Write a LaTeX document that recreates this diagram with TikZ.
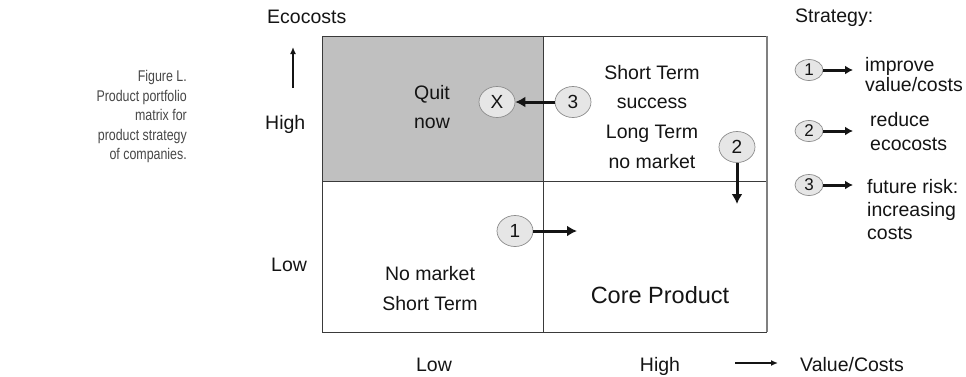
\documentclass[tikz,border=0pt]{standalone}
\usepackage{fontspec}
\setmainfont{Liberation Sans}
\newfontfamily\capfont{Liberation Sans}[FakeStretch=0.8]
\usetikzlibrary{arrows.meta,shapes.geometric}
\definecolor{boxline}{HTML}{3A3A3A}
\definecolor{edgegray}{HTML}{808080}
\definecolor{quitgray}{HTML}{C0C0C0}
\definecolor{badgefill}{HTML}{E6E6E6}
\definecolor{badgeline}{HTML}{8C8C8C}
\definecolor{captext}{HTML}{474747}
\definecolor{ink}{HTML}{141414}
\tikzset{
  txt/.style={anchor=base, inner sep=0pt, text=ink, font=\fontsize{19.5}{23}\selectfont},
  lefttxt/.style={txt, anchor=base west},
  captxt/.style={anchor=base east, inner sep=0pt, text=captext, font=\capfont\fontsize{15.5}{19}\selectfont},
  cell/.style={draw=boxline, line width=0.9pt},
  badge/.style={ellipse, draw=badgeline, fill=badgefill, line width=0.7pt, inner sep=0pt,
    minimum width=36pt, minimum height=31pt, text=ink, font=\fontsize{19}{22}\selectfont},
  smallbadge/.style={badge, minimum width=28pt, minimum height=21pt, font=\fontsize{17}{20}\selectfont},
  movearrow/.style={draw=ink, line width=3pt, -{Latex[length=10pt,width=11pt]}},
  legendarrow/.style={draw=ink, line width=3pt, -{Latex[length=8pt,width=9pt]}},
  axisarrow/.style={draw=ink, line width=1.4pt, -{Latex[length=7pt,width=6pt]}}
}
\begin{document}
\begin{tikzpicture}[x=1pt,y=-1pt]
\useasboundingbox (0,0) rectangle (966,376);

% caption
\node[captxt] (cap1) at (187,81) {Figure L.};
\node[captxt] (cap2) at (187,101) {Product portfolio};
\node[captxt] (cap3) at (187,120) {matrix for};
\node[captxt] (cap4) at (187,140) {product strategy};
\node[captxt] (cap5) at (187,159) {of companies.};

% the four quadrants
\fill[quitgray] (322,36) rectangle (543,181);
\draw[cell] (322,36) rectangle (543,181);
\draw[cell] (543,36) -- (767,36);
\draw[cell] (543,181) -- (767,181);
\draw[cell] (322,332) -- (767,332);
\draw[cell] (322,181) -- (322,332);
\draw[cell] (543,181) -- (543,332);
\draw[draw=edgegray, line width=1.3pt] (767,36) -- (767,332);

% axis labels
\node[lefttxt] (ecocosts) at (267,23) {Ecocosts};
\coordinate (upfoot) at (293,88);
\coordinate (uptip) at (293,47);
\draw[axisarrow] (upfoot) -- (uptip);
\node[lefttxt] (yhigh) at (265,129) {High};
\node[lefttxt] (ylow) at (271,271) {Low};
\node[txt] (xlow) at (434,371) {Low};
\node[txt] (xhigh) at (660,371) {High};
\coordinate (rightfoot) at (735,363);
\coordinate (righttip) at (778,363);
\draw[axisarrow] (rightfoot) -- (righttip);
\node[lefttxt] (valuecosts) at (800,371) {Value/Costs};

% quadrant texts
\node[txt] (quit) at (432,99) {Quit};
\node[txt] (now) at (432,128) {now};
\node[txt] (st1) at (652,79) {Short Term};
\node[txt] (st2) at (652,108) {success};
\node[txt] (st3) at (652,138) {Long Term};
\node[txt] (st4) at (652,168) {no market};
\node[txt] (nm1) at (430,280) {No market};
\node[txt] (nm2) at (430,310) {Short Term};
\node[txt, font=\fontsize{23.5}{27}\selectfont] (core) at (660,303) {Core Product};

% strategy moves
\node[badge] (bx) at (497,102) {X};
\node[badge] (b3) at (573,102) {3};
\node[badge] (b2) at (737,147) {2};
\node[badge] (b1) at (515,231) {1};
\coordinate (down2) at (737,204);
\coordinate (right1) at (577,231);
\draw[movearrow] (b3.west) -- (bx.east);
\draw[movearrow] (b2.south) -- (down2);
\draw[movearrow] (b1.east) -- (right1);

% legend
\node[lefttxt] (strategy) at (795,22) {Strategy:};
\node[smallbadge] (l1) at (809,70) {1};
\node[smallbadge] (l2) at (809,131) {2};
\node[smallbadge] (l3) at (809,185) {3};
\coordinate (l1tip) at (853,70);
\coordinate (l2tip) at (853,131);
\coordinate (l3tip) at (853,185);
\draw[legendarrow] (l1.east) -- (l1tip);
\draw[legendarrow] (l2.east) -- (l2tip);
\draw[legendarrow] (l3.east) -- (l3tip);
\node[lefttxt] (lg1a) at (865,71) {improve};
\node[lefttxt] (lg1b) at (865,91) {value/costs};
\node[lefttxt] (lg2a) at (870,126) {reduce};
\node[lefttxt] (lg2b) at (870,150) {ecocosts};
\node[lefttxt] (lg3a) at (867,193) {future risk:};
\node[lefttxt] (lg3b) at (867,216) {increasing};
\node[lefttxt] (lg3c) at (867,239) {costs};
\end{tikzpicture}
\end{document}
